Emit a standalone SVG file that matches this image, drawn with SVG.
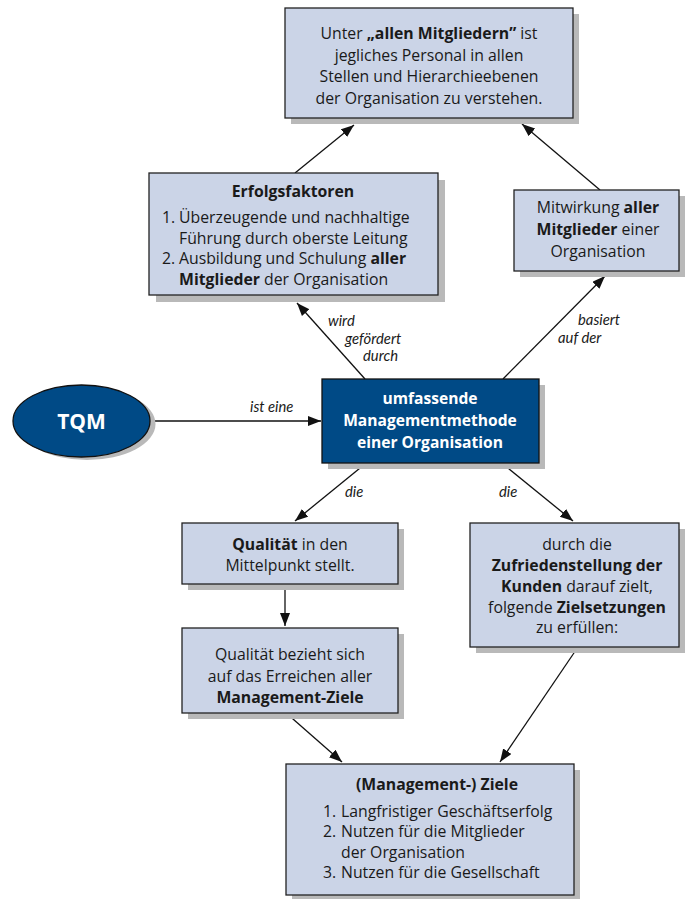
<svg xmlns="http://www.w3.org/2000/svg" width="685" height="899" viewBox="0 0 685 899">
<defs>
<marker id="ah" markerUnits="userSpaceOnUse" markerWidth="14" markerHeight="12" refX="13" refY="5" orient="auto">
<path d="M0,0 L13,5 L0,10 Z" fill="#111"/>
</marker>
</defs>
<style>
.box{fill:#cbd4e7;stroke:#222;stroke-width:1.3}
.dbox{fill:#004a86;stroke:#111;stroke-width:1.3}
.sh{fill:#b9b9b9}
.t{font-family:"Open Sans","Noto Sans",sans-serif;font-size:15.8px;fill:#1a1a1a}
.b{font-weight:bold}
.w{font-family:"Open Sans","Noto Sans",sans-serif;font-size:15.6px;font-weight:bold;fill:#fff}
.lbl{font-family:Lato,"Open Sans",sans-serif;font-size:14.8px;font-style:italic;fill:#1a1a1a}
.c{stroke:#111;stroke-width:1.3;fill:none;marker-end:url(#ah)}
</style>

<g id="connectors">
<line class="c" x1="295" y1="173" x2="354" y2="125"/>
<line class="c" x1="600" y1="190" x2="522" y2="124"/>
<line class="c" x1="365" y1="379" x2="297" y2="303"/>
<line class="c" x1="503" y1="379" x2="605" y2="276"/>
<line class="c" x1="151" y1="421" x2="321" y2="421"/>
<line class="c" x1="365" y1="464" x2="295" y2="521"/>
<line class="c" x1="503" y1="464" x2="573" y2="521"/>
<line class="c" x1="285" y1="584" x2="285" y2="626"/>
<line class="c" x1="285" y1="712" x2="342" y2="762"/>
<line class="c" x1="578" y1="647" x2="500" y2="762"/>
<text class="lbl" x="328" y="326">wird</text>
<text class="lbl" x="345" y="343.5">gefördert</text>
<text class="lbl" x="363" y="361">durch</text>
<text class="lbl" x="578" y="325">basiert</text>
<text class="lbl" x="558" y="342.5">auf der</text>
<text class="lbl" x="250" y="412">ist eine</text>
<text class="lbl" x="345" y="497">die</text>
<text class="lbl" x="499" y="497">die</text>
</g>

<g id="n_mitglieder_def">
<rect class="sh" x="291" y="14" width="288" height="110"/>
<rect class="box" x="285" y="8" width="288" height="110"/>
<text class="t" text-anchor="middle" x="429" y="39">Unter <tspan class="b">„allen Mitgliedern”</tspan> ist</text>
<text class="t" text-anchor="middle" x="429" y="61">jegliches Personal in allen</text>
<text class="t" text-anchor="middle" x="429" y="82">Stellen und Hierarchieebenen</text>
<text class="t" text-anchor="middle" x="429" y="104">der Organisation zu verstehen.</text>
</g>

<g id="n_erfolgsfaktoren">
<rect class="sh" x="156" y="180" width="289" height="122"/>
<rect class="box" x="149" y="173" width="289" height="122"/>
<text class="t b" text-anchor="middle" x="293" y="197">Erfolgsfaktoren</text>
<text class="t" x="162" y="223">1.</text>
<text class="t" x="179" y="223">Überzeugende und nachhaltige</text>
<text class="t" x="179" y="244">Führung durch oberste Leitung</text>
<text class="t" x="162" y="264">2.</text>
<text class="t" x="179" y="264">Ausbildung und Schulung <tspan class="b">aller</tspan></text>
<text class="t" x="179" y="285"><tspan class="b">Mitglieder</tspan> der Organisation</text>
</g>

<g id="n_mitwirkung">
<rect class="sh" x="520" y="196" width="165" height="81"/>
<rect class="box" x="514" y="190" width="165" height="81"/>
<text class="t" text-anchor="middle" x="598" y="213">Mitwirkung <tspan class="b">aller</tspan></text>
<text class="t" text-anchor="middle" x="598" y="235"><tspan class="b">Mitglieder</tspan> einer</text>
<text class="t" text-anchor="middle" x="598" y="257">Organisation</text>
</g>

<g id="n_tqm">
<ellipse class="sh" cx="87" cy="424" rx="68.5" ry="36"/>
<ellipse class="dbox" cx="81.5" cy="421" rx="68.5" ry="36"/>
<text class="w" text-anchor="middle" x="81.5" y="429" style="font-size:21px">TQM</text>
</g>

<g id="n_methode">
<rect class="sh" x="328" y="385" width="217" height="84"/>
<rect class="dbox" x="322" y="379" width="217" height="84"/>
<text class="w" text-anchor="middle" x="430" y="404">umfassende</text>
<text class="w" text-anchor="middle" x="430" y="426">Managementmethode</text>
<text class="w" text-anchor="middle" x="430" y="448">einer Organisation</text>
</g>

<g id="n_qualitaet">
<rect class="sh" x="188" y="529" width="216" height="61"/>
<rect class="box" x="182" y="523" width="216" height="61"/>
<text class="t" text-anchor="middle" x="290" y="550"><tspan class="b">Qualität</tspan> in den</text>
<text class="t" text-anchor="middle" x="290" y="571">Mittelpunkt stellt.</text>
</g>

<g id="n_qualitaet_ziele">
<rect class="sh" x="188" y="634" width="216" height="85"/>
<rect class="box" x="182" y="628" width="216" height="85"/>
<text class="t" text-anchor="middle" x="290" y="660">Qualität bezieht sich</text>
<text class="t" text-anchor="middle" x="290" y="682">auf das Erreichen aller</text>
<text class="t b" text-anchor="middle" x="290" y="703">Management-Ziele</text>
</g>

<g id="n_kunden">
<rect class="sh" x="476" y="529" width="209" height="124"/>
<rect class="box" x="470" y="523" width="209" height="124"/>
<text class="t" text-anchor="middle" x="577" y="550">durch die</text>
<text class="t b" text-anchor="middle" x="577" y="571">Zufriedenstellung der</text>
<text class="t" text-anchor="middle" x="577" y="592"><tspan class="b">Kunden</tspan> darauf zielt,</text>
<text class="t" text-anchor="middle" x="577" y="613">folgende <tspan class="b">Zielsetzungen</tspan></text>
<text class="t" text-anchor="middle" x="577" y="633">zu erfüllen:</text>
</g>

<g id="n_ziele">
<rect class="sh" x="292" y="770" width="288" height="132"/>
<rect class="box" x="286" y="764" width="288" height="131"/>
<text class="t b" text-anchor="middle" x="437" y="790">(Management-) Ziele</text>
<text class="t" x="323" y="817">1.</text>
<text class="t" x="341" y="817">Langfristiger Geschäftserfolg</text>
<text class="t" x="323" y="837">2.</text>
<text class="t" x="341" y="837">Nutzen für die Mitglieder</text>
<text class="t" x="341" y="858">der Organisation</text>
<text class="t" x="323" y="878">3.</text>
<text class="t" x="341" y="878">Nutzen für die Gesellschaft</text>
</g>
</svg>
